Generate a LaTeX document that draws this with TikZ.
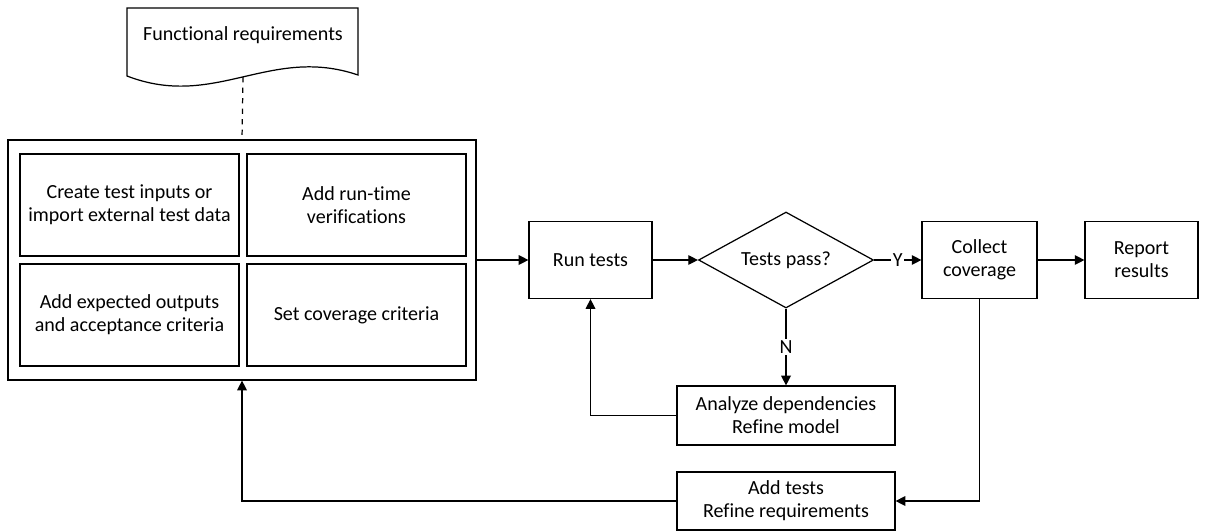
\documentclass[tikz,border=0pt]{standalone}
\usepackage{fontspec}
\setmainfont[Ligatures=NoCommon]{Carlito}
\usepackage{tikz}
\usetikzlibrary{shapes.geometric,arrows.meta,positioning,calc}

\begin{document}
\begin{tikzpicture}[
    x=0.02cm, y=-0.02cm,
    line width=0.7pt,
    font=\fontsize{11.4}{13.2}\selectfont,
    block/.style = {draw, rectangle, align=center, inner sep=2pt},
    task/.style = {block, minimum width=4.38cm, minimum height=2.04cm},
    decision/.style = {draw, diamond, aspect=1.8, inner sep=0pt, minimum width=3.5cm, minimum height=1.92cm},
    arr/.style = {-{Triangle[length=5.5pt, width=5.5pt]}},
    yn_label/.style = {fill=white, inner sep=1pt}
]
    \useasboundingbox (0,0) rectangle (1212,531);

    % requirements document
    \draw (127,8) -- (358,8) -- (358,75) .. controls (270,45) and (215,110) .. (127,76) -- cycle;
    \node (req) at (243,35) {Functional requirements};
    \coordinate (docbot) at (243,77);

    % test specification
    \node[block, minimum width=9.36cm, minimum height=4.8cm] (spec) at (242,260) {};
    \node[task] (inputs) at (129.5,205) {Create test inputs or\\import external test data};
    \node[task] (verif) at (356.5,205) {Add run-time\\verifications};
    \node[task] (expected) at (129.5,315) {Add expected outputs\\and acceptance criteria};
    \node[task] (cover) at (356.5,315) {Set coverage criteria};

    \node[block, minimum width=2.46cm, minimum height=1.54cm] (run) at (590.5,260) {Run tests};
    \node[decision] (pass) at (786,260) {Tests pass?};
    \node[block, minimum width=2.3cm, minimum height=1.54cm] (collect) at (979.5,260) {Collect\\coverage};
    \node[block, minimum width=2.26cm, minimum height=1.54cm] (report) at (1141.5,260) {Report\\results};
    \node[block, minimum width=4.36cm, minimum height=1.18cm] (analyze) at (786,415.5) {Analyze dependencies\\Refine model};
    \node[block, minimum width=4.36cm, minimum height=1.16cm] (addtests) at (786,501) {Add tests\\Refine requirements};

    \draw[dashed] (docbot) -- (spec.north);
    \draw[arr] (spec.east) -- (run.west);
    \draw[arr] (run.east) -- (pass.west);
    \draw[arr] (pass.east) -- node[yn_label] {Y} (collect.west);
    \draw[arr] (collect.east) -- (report.west);
    \draw[arr] (pass.south) -- node[yn_label] {N} (analyze.north);
    \draw[arr] (analyze.west) -| (run.south);
    \draw[arr] (collect.south) |- (addtests.east);
    \draw[arr] (addtests.west) -| (spec.south);
\end{tikzpicture}
\end{document}
